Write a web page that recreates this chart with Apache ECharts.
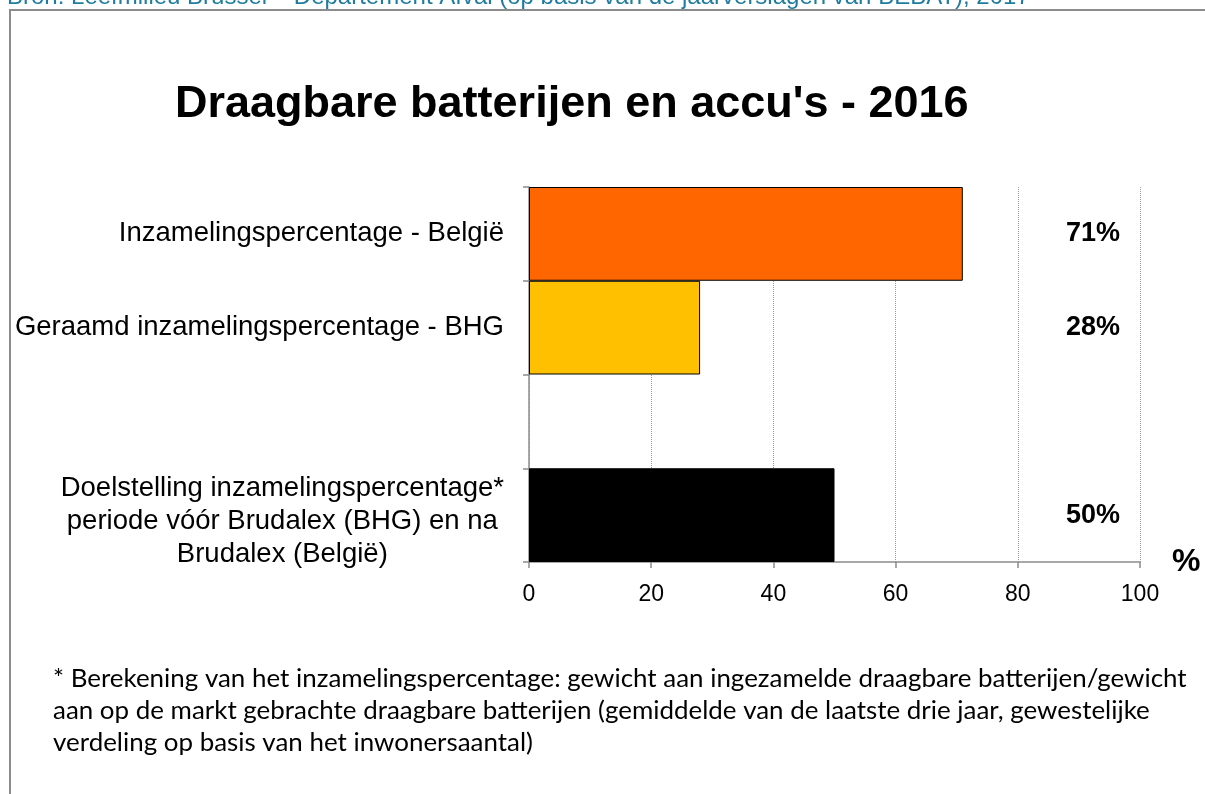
<!DOCTYPE html>
<html>
<head>
<meta charset="utf-8">
<title>Draagbare batterijen en accu's - 2016</title>
<script src="https://cdn.jsdelivr.net/npm/echarts@6/dist/echarts.min.js"></script>
<style>
  html, body { margin: 0; padding: 0; background: #fff; }
  #chart { width: 1205px; height: 794px; }
</style>
</head>
<body>
<div id="chart"></div>
<script>
// categorieën (lege rij = witruimte tussen de balken)
const categories = [
  'Inzamelingspercentage - België',
  'Geraamd inzamelingspercentage - BHG',
  '',
  'Doelstelling inzamelingspercentage*\nperiode vóór Brudalex (BHG) en na\nBrudalex (België)'
];
// percentages
const values = [71, 28, null, 50];
const barColors = ['#ff6600', '#ffc000', '#ffffff', '#000000'];
const xTicks = [0, 20, 40, 60, 80, 100];

const titleText = "Draagbare batterijen en accu's - 2016";
const sourceText = 'Bron: Leefmilieu Brussel – Departement Afval (op basis van de jaarverslagen van BEBAT), 2017';
const noteLines = [
  '* Berekening van het inzamelingspercentage: gewicht aan ingezamelde draagbare batterijen/gewicht',
  'aan op de markt gebrachte draagbare batterijen (gemiddelde van de laatste drie jaar, gewestelijke',
  'verdeling op basis van het inwonersaantal)'
];

const FONT = '"Liberation Sans", Arial, sans-serif';
const LABEL_X = 92.3; // waar de percentages rechts staan

const chart = echarts.init(document.getElementById('chart'), null, { renderer: 'canvas' });

// meerregelig label iets lager zetten, zoals in het origineel
const yData = categories.map(c => (c.indexOf('\n') >= 0
  ? { value: c, textStyle: { padding: [12, 0, 0, 0] } }
  : c));

const option = {
  backgroundColor: '#fff',
  animation: false,
  title: {
    text: titleText,
    left: 170,
    top: 77,
    textStyle: {
      fontFamily: FONT,
      fontSize: 45,
      fontWeight: 'bold',
      color: '#000'
    }
  },
  grid: {
    left: 529,
    right: 65,
    top: 187,
    bottom: 232,
    outerBoundsMode: 'none'
  },
  xAxis: {
    type: 'value',
    min: xTicks[0],
    max: xTicks[xTicks.length - 1],
    interval: 20,
    name: '%',
    nameLocation: 'end',
    nameGap: 32,
    nameTextStyle: {
      fontFamily: FONT,
      fontSize: 32,
      fontWeight: 'bold',
      color: '#000',
      verticalAlign: 'middle'
    },
    axisLine: { show: true, lineStyle: { color: '#8c8c8c', width: 1.5 } },
    axisTick: { show: true, length: 6, lineStyle: { color: '#8c8c8c', width: 1.5 } },
    axisLabel: {
      fontFamily: FONT,
      fontSize: 23,
      color: '#000',
      margin: 21
    },
    splitLine: {
      show: true,
      lineStyle: { color: '#9a9a9a', type: 'dotted', width: 1 }
    }
  },
  yAxis: {
    type: 'category',
    inverse: true,
    data: yData,
    axisLine: { show: true, lineStyle: { color: '#8c8c8c', width: 1.5 } },
    axisTick: { show: true, length: 6, alignWithLabel: false, lineStyle: { color: '#8c8c8c', width: 1.5 } },
    axisLabel: {
      fontFamily: FONT,
      fontSize: 27.5,
      color: '#000',
      margin: 25,
      formatter: function (value) {
        if (value.indexOf('\n') < 0) return value;
        return value.split('\n').map(l => '{c|' + l + '}').join('\n');
      },
      rich: {
        c: {
          align: 'center',
          fontFamily: FONT,
          fontSize: 27.5,
          lineHeight: 33,
          color: '#000'
        }
      }
    },
    splitLine: { show: false }
  },
  series: [
    {
      type: 'bar',
      barWidth: '100%',
      barCategoryGap: 0,
      data: values.map((v, i) => ({
        value: v,
        itemStyle: { color: barColors[i], borderColor: '#000', borderWidth: 1 }
      })),
      z: 3
    },
    {
      // onzichtbare punten, alleen voor de percentages rechts
      type: 'scatter',
      symbolSize: 0,
      silent: true,
      itemStyle: { opacity: 1 },
      data: values.map((v, i) => (v == null ? null : [LABEL_X, i])),
      label: {
        show: true,
        position: 'inside',
        formatter: p => values[p.dataIndex] + '%',
        fontFamily: FONT,
        fontSize: 27,
        fontWeight: 'bold',
        color: '#000'
      },
      z: 4
    }
  ],
  graphic: [
    {
      type: 'rect',
      shape: { x: 10, y: 10, width: 1300, height: 900 },
      style: { fill: null, stroke: '#8c8c8c', lineWidth: 2 },
      silent: true,
      z: 0
    },
    {
      type: 'text',
      x: 7,
      y: 9,
      style: {
        text: sourceText,
        fontFamily: FONT,
        fontSize: 24,
        fill: '#1f7c9e',
        verticalAlign: 'bottom'
      },
      silent: true
    },
    {
      type: 'text',
      x: 53,
      y: 663,
      scaleX: 1.037,
      style: {
        text: noteLines.join('\n'),
        fontFamily: 'Lato, "Open Sans", sans-serif',
        fontSize: 25,
        lineHeight: 32,
        fill: '#000'
      },
      silent: true
    }
  ]
};

chart.setOption(option);
</script>
</body>
</html>
